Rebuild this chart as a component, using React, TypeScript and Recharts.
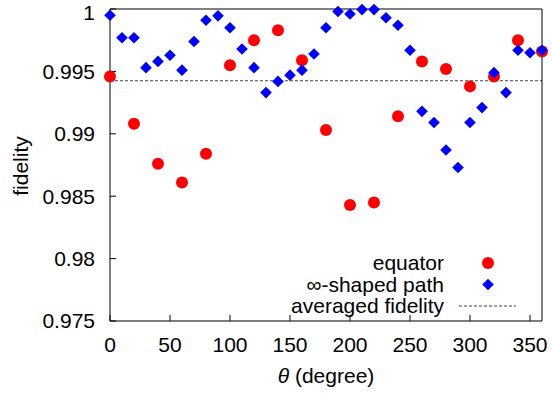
import React from "react";
import {
  ScatterChart,
  Scatter,
  XAxis,
  YAxis,
  ReferenceLine,
  Legend,
} from "recharts";

const equatorTheta = [0, 20, 40, 60, 80, 100, 120, 140, 160, 180, 200, 220, 240, 260, 280, 300, 320, 340, 360];
const equatorFidelity = [
  0.9946, 0.9908, 0.9876, 0.9861, 0.9884, 0.9955, 0.9975, 0.9983, 0.9959, 0.9903,
  0.9843, 0.9845, 0.9914, 0.9958, 0.9952, 0.9938, 0.9946, 0.9975, 0.9966,
];

const infinityTheta = [
  0, 10, 20, 30, 40, 50, 60, 70, 80, 90, 100, 110, 120, 130, 140, 150, 160, 170, 180,
  190, 200, 210, 220, 230, 240, 250, 260, 270, 280, 290, 300, 310, 320, 330, 340, 350, 360,
];
const infinityFidelity = [
  0.9995, 0.9977, 0.9977, 0.9953, 0.9958, 0.9963, 0.9951, 0.9974, 0.9991, 0.99945,
  0.9985, 0.9968, 0.9953, 0.9933, 0.9942, 0.9947, 0.9951, 0.9964, 0.9985,
  0.9998, 0.9996, 0.99995, 0.99995, 0.9993, 0.9987, 0.9967, 0.9918, 0.9909, 0.9887,
  0.9873, 0.9909, 0.9921, 0.9949, 0.9933, 0.9967, 0.9965, 0.9967,
];

const averagedFidelity = 0.99425;

const xTicks = [0, 50, 100, 150, 200, 250, 300, 350];
const yTicks = [0.975, 0.98, 0.985, 0.99, 0.995, 1];

const legendLabels = ["equator", "\u221e-shaped path", "averaged fidelity"];

const FONT = '"Liberation Sans", Arial, Helvetica, sans-serif';
const FS = 21;
const RED = "#ff0000";
const BLUE = "#0000ff";

const equatorData = equatorTheta.map((t, i) => ({ theta: t, fidelity: equatorFidelity[i] }));
const infinityData = infinityTheta.map((t, i) => ({ theta: t, fidelity: infinityFidelity[i] }));

function CircleShape(props: any) {
  const { cx, cy } = props;
  if (cx == null || cy == null) return null;
  return <circle cx={cx} cy={cy} r={6} fill={RED} />;
}

function DiamondShape(props: any) {
  const { cx, cy } = props;
  if (cx == null || cy == null) return null;
  const h = 5.8;
  return (
    <path
      d={`M${cx},${cy - h}L${cx + h},${cy}L${cx},${cy + h}L${cx - h},${cy}Z`}
      fill={BLUE}
    />
  );
}

// legend sits inside the plot, bottom right, text right-aligned before the symbol
function LegendBox() {
  const rows = [263, 284.5, 306];
  return (
    <div style={{ position: "relative", width: 552, height: 394, fontFamily: FONT, fontSize: FS }}>
      {legendLabels.map((label, i) => (
        <div
          key={label}
          style={{
            position: "absolute",
            right: 552 - 444,
            top: rows[i] - 12,
            lineHeight: "24px",
            whiteSpace: "nowrap",
            color: "#000",
          }}
        >
          {label}
        </div>
      ))}
      <svg style={{ position: "absolute", left: 0, top: 0 }} width={552} height={394}>
        <circle cx={488} cy={rows[0]} r={6} fill={RED} />
        <path
          d={`M488,${rows[1] - 5.8}L493.8,${rows[1]}L488,${rows[1] + 5.8}L482.2,${rows[1]}Z`}
          fill={BLUE}
        />
        <line x1={459} x2={516} y1={rows[2]} y2={rows[2]} stroke="#444" strokeWidth={1.2} strokeDasharray="3 2" />
      </svg>
    </div>
  );
}

const tickStyle = { fontSize: FS, fill: "#000", fontFamily: FONT };

export default function App() {
  return (
    <div style={{ position: "absolute", left: 0, top: 0, width: 552, height: 394, background: "#fff" }}>
      <ScatterChart
        width={552}
        height={394}
        margin={{ top: 0, right: 0, bottom: 0, left: 0 }}
        style={{ fontFamily: FONT }}
      >
        <XAxis
          xAxisId="bottom"
          type="number"
          dataKey="theta"
          domain={[0, 360]}
          ticks={xTicks}
          orientation="bottom"
          height={73}
          tickSize={-6}
          tickMargin={22}
          tick={tickStyle}
          axisLine={{ stroke: "#000", strokeWidth: 1 }}
          tickLine={{ stroke: "#000" }}
          label={(p: any) => {
            const vb = p.viewBox || { x: 110, y: 321, width: 432 };
            return (
              <text
                x={vb.x + vb.width / 2}
                y={383}
                textAnchor="middle"
                fontSize={FS}
                fontFamily={FONT}
                fill="#000"
              >
                <tspan fontStyle="italic">θ</tspan> (degree)
              </text>
            );
          }}
        />
        <XAxis
          xAxisId="top"
          type="number"
          dataKey="theta"
          domain={[0, 360]}
          ticks={xTicks}
          orientation="top"
          height={9}
          tickSize={-6}
          tick={false}
          axisLine={{ stroke: "#000", strokeWidth: 1 }}
          tickLine={{ stroke: "#000" }}
        />
        <YAxis
          yAxisId="left"
          type="number"
          dataKey="fidelity"
          domain={[0.975, 1]}
          ticks={yTicks}
          width={110}
          tickSize={-6}
          tickMargin={21}
          tick={tickStyle}
          axisLine={{ stroke: "#000", strokeWidth: 1 }}
          tickLine={{ stroke: "#000" }}
          label={() => (
            <text
              x={28}
              y={166}
              transform="rotate(-90 28 166)"
              textAnchor="middle"
              fontSize={FS}
              fontFamily={FONT}
              fill="#000"
            >
              fidelity
            </text>
          )}
        />
        <YAxis
          yAxisId="right"
          orientation="right"
          type="number"
          dataKey="fidelity"
          domain={[0.975, 1]}
          ticks={yTicks}
          width={10}
          tickSize={-6}
          tick={false}
          axisLine={{ stroke: "#000", strokeWidth: 1 }}
          tickLine={{ stroke: "#000" }}
        />
        <ReferenceLine
          xAxisId="bottom"
          yAxisId="left"
          y={averagedFidelity}
          stroke="#444"
          strokeWidth={1.2}
          strokeDasharray="3 2"
        />
        <Scatter
          name="equator"
          data={equatorData}
          xAxisId="bottom"
          yAxisId="left"
          shape={CircleShape}
          isAnimationActive={false}
        />
        <Scatter
          name="infinity"
          data={infinityData}
          xAxisId="bottom"
          yAxisId="left"
          shape={DiamondShape}
          isAnimationActive={false}
        />
        <Legend
          layout="horizontal"
          verticalAlign="middle"
          align="center"
          wrapperStyle={{ position: "absolute", left: 0, top: 0, width: 552, height: 394, pointerEvents: "none" }}
          content={() => <LegendBox />}
        />
      </ScatterChart>
    </div>
  );
}
